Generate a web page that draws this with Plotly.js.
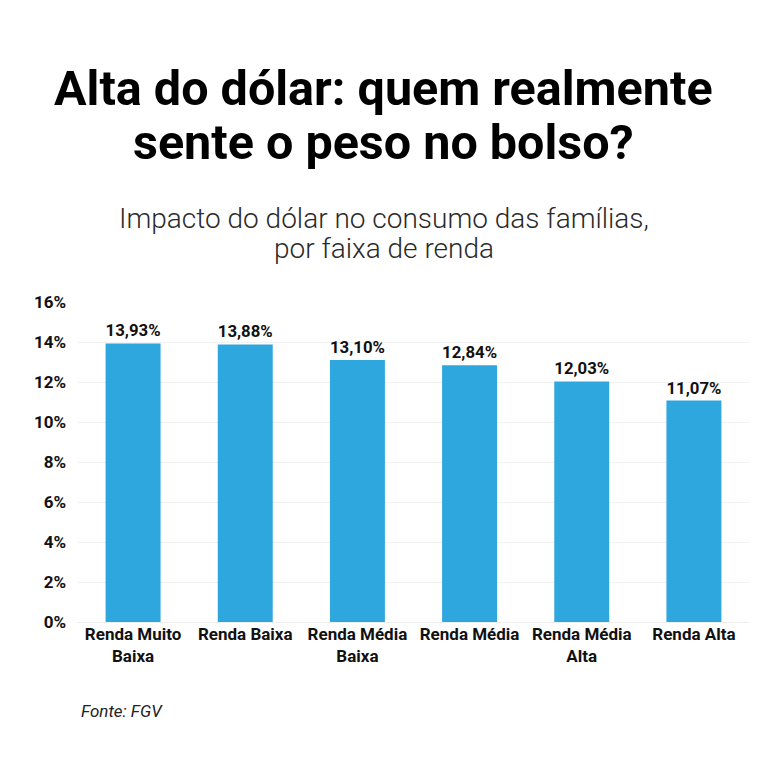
<!DOCTYPE html>
<html>
<head>
<meta charset="utf-8">
<script src="https://cdn.plot.ly/plotly-3.0.1.min.js"></script>
<style>html,body{margin:0;padding:0;background:#fff;}#chart{width:768px;height:768px;}</style>
</head>
<body>
<div id="chart"></div>
<script>
const categories = ["Renda Muito<br>Baixa", "Renda Baixa", "Renda Média<br>Baixa", "Renda Média", "Renda Média<br>Alta", "Renda Alta"];
const values = [13.93, 13.88, 13.10, 12.84, 12.03, 11.07];
const yTicks = [0, 2, 4, 6, 8, 10, 12, 14, 16];
const yTickText = ["0%", "2%", "4%", "6%", "8%", "10%", "12%", "14%", "16%"];

const titleLines = ["Alta do dólar: quem realmente", "sente o peso no bolso?"];
const subtitleLines = ["Impacto do dólar no consumo das famílias,", "por faixa de renda"];
const sourceText = "Fonte: FGV";

const plotTop = 302, plotH = 320;
function py(pix) { return 1 + (plotTop - pix) / plotH; }

const trace = {
  type: "bar",
  x: categories,
  y: values,
  marker: {color: "#2ea6de"},
  texttemplate: "%{y:.2f}%",
  textposition: "outside",
  textfont: {family: "Roboto, sans-serif", size: 17, color: "#111", weight: 700},
  cliponaxis: false,
  hoverinfo: "skip"
};

const titleFont = {family: "Roboto, sans-serif", size: 48.5, color: "#000", weight: 700};
const subFont = {family: "Roboto, sans-serif", size: 28, color: "#2a2a2a", weight: 300};

const layout = {
  width: 768, height: 768,
  paper_bgcolor: "#fff", plot_bgcolor: "#fff",
  separators: ",.",
  margin: {l: 77, r: 18, t: 302, b: 146},
  bargap: 0.51,
  showlegend: false,
  xaxis: {
    tickfont: {family: "Roboto, sans-serif", size: 17, color: "#111", weight: 700},
    showgrid: false, showline: false, ticks: "", zeroline: false
  },
  yaxis: {
    range: [0, 16],
    tickvals: yTicks,
    ticktext: yTickText,
    tickfont: {family: "Roboto, sans-serif", size: 17, color: "#111", weight: 700},
    showgrid: true, gridcolor: "#f1f1f1", gridwidth: 1,
    zeroline: true, zerolinecolor: "#eeeeee", zerolinewidth: 1,
    showline: false, ticks: "", ticklabelstandoff: 10
  },
  annotations: [
    {text: titleLines[0], xref: "paper", yref: "paper", x: 0.5, y: py(88), xanchor: "center", yanchor: "middle",
     xshift: -30, showarrow: false, font: titleFont},
    {text: titleLines[1], xref: "paper", yref: "paper", x: 0.5, y: py(142), xanchor: "center", yanchor: "middle",
     xshift: -30, showarrow: false, font: titleFont},
    {text: subtitleLines[0], xref: "paper", yref: "paper", x: 0.5, y: py(218), xanchor: "center", yanchor: "middle",
     xshift: -30, showarrow: false, font: subFont},
    {text: subtitleLines[1], xref: "paper", yref: "paper", x: 0.5, y: py(248), xanchor: "center", yanchor: "middle",
     xshift: -30, showarrow: false, font: subFont},
    {text: "<i>" + sourceText + "</i>", xref: "paper", yref: "paper", x: 0, y: py(711), xanchor: "left", yanchor: "middle",
     xshift: 2, showarrow: false,
     font: {family: "Roboto, sans-serif", size: 17, color: "#222"}}
  ]
};

Plotly.newPlot("chart", [trace], layout, {displayModeBar: false, staticPlot: true});
</script>
</body>
</html>
